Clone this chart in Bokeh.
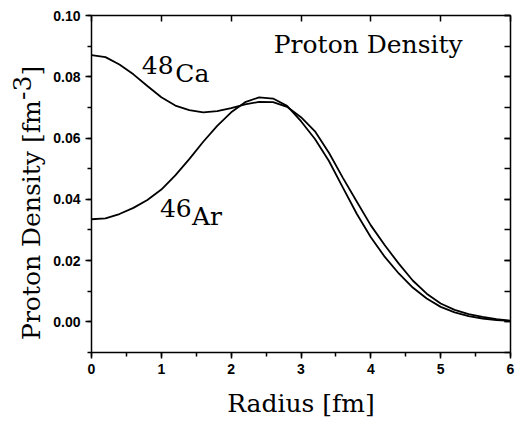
from math import pi
from bokeh.plotting import figure
from bokeh.layouts import row
from bokeh.models import (LinearAxis, SingleIntervalTicker, NumeralTickFormatter,
                          Label, Range1d)
from bokeh.embed import file_html
from bokeh.resources import INLINE

# ---- data ----
radius = [0.0, 0.2, 0.4, 0.6, 0.8, 1.0, 1.2, 1.4, 1.6, 1.8, 2.0, 2.2, 2.4, 2.6, 2.8,
          3.0, 3.2, 3.4, 3.6, 3.8, 4.0, 4.2, 4.4, 4.6, 4.8, 5.0, 5.2, 5.4, 5.6, 5.8, 6.0]
rho_ca48 = [0.0871, 0.0864, 0.0840, 0.0808, 0.0770, 0.0733, 0.0706, 0.0691, 0.0684, 0.0688,
            0.0698, 0.0710, 0.0718, 0.0717, 0.0702, 0.0668, 0.0622, 0.0552, 0.0470, 0.0392,
            0.0315, 0.0250, 0.0190, 0.0135, 0.0092, 0.0060, 0.0039, 0.0025, 0.0016, 0.0009, 0.0004]
rho_ar46 = [0.0335, 0.0338, 0.0352, 0.0372, 0.0398, 0.0432, 0.0478, 0.0531, 0.0588, 0.0640,
            0.0684, 0.0717, 0.0733, 0.0729, 0.0705, 0.0655, 0.0597, 0.0525, 0.0438, 0.0352,
            0.0276, 0.0212, 0.0158, 0.0112, 0.0076, 0.0049, 0.0031, 0.0019, 0.0011, 0.0006, 0.0003]

x_title = "Radius [fm]"
y_title = "Proton Density [fm"
y_title_sup = "-3"
y_title_end = "]"
panel_title = "Proton Density"

SERIF = "DejaVu Serif"
SANS = "Liberation Sans"
TXT = "25px"

W_LAB = 50          # width of the strip that holds the rotated y title
TOP, BOTTOM = 15, 72

p = figure(width=522 - W_LAB, height=424, output_backend="svg", toolbar_location=None,
           x_range=Range1d(0, 6), y_range=Range1d(-0.01, 0.10),
           min_border_left=91 - W_LAB, min_border_right=12,
           min_border_top=TOP, min_border_bottom=BOTTOM)
p.xgrid.visible = False
p.ygrid.visible = False
p.outline_line_color = None

p.line(radius, rho_ca48, line_color="black", line_width=1.8)
p.line(radius, rho_ar46, line_color="black", line_width=1.8)

# ---- axes ----
def style(ax, inward, labels):
    ax.axis_line_width = 1.5
    ax.axis_line_color = "black"
    ax.major_tick_line_width = 1.5
    ax.minor_tick_line_width = 1.5
    ax.major_tick_line_color = "black"
    ax.minor_tick_line_color = "black"
    if inward:
        ax.major_tick_in, ax.major_tick_out = 6, 0
        ax.minor_tick_in, ax.minor_tick_out = 4, 0
    else:
        ax.major_tick_in, ax.major_tick_out = 0, 6
        ax.minor_tick_in, ax.minor_tick_out = 0, 4
    if labels:
        ax.major_label_text_font = SANS
        ax.major_label_text_font_style = "bold"
        ax.major_label_text_font_size = "14px"
        ax.major_label_text_color = "black"
        ax.major_label_standoff = 5
    else:
        ax.major_label_text_font_size = "0px"
        ax.major_label_text_color = None
        ax.major_label_text_alpha = 0
        ax.major_label_standoff = 0

bx = p.xaxis[0]
bx.ticker = SingleIntervalTicker(interval=1, num_minor_ticks=2)
bx.formatter = NumeralTickFormatter(format="0")
style(bx, False, True)
bx.axis_label = x_title
bx.axis_label_text_font = SERIF
bx.axis_label_text_font_style = "normal"
bx.axis_label_text_font_size = TXT
bx.axis_label_text_color = "black"
bx.axis_label_standoff = 12

ly = p.yaxis[0]
ly.ticker = SingleIntervalTicker(interval=0.02, num_minor_ticks=2)
ly.formatter = NumeralTickFormatter(format="0.00")
style(ly, False, True)

tx = LinearAxis(ticker=SingleIntervalTicker(interval=1, num_minor_ticks=0))
style(tx, True, False)
tx.minor_tick_in = 0
p.add_layout(tx, "above")

ry = LinearAxis(ticker=SingleIntervalTicker(interval=0.02, num_minor_ticks=2))
style(ry, True, False)
ry.minor_tick_in = 6
p.add_layout(ry, "right")

# ---- in-plot texts ----
def lab(fig, x, y, t, angle=0.0):
    fig.add_layout(Label(x=x, y=y, text=t, angle=angle, text_font=SERIF,
                         text_font_size=TXT, text_color="black",
                         text_align="left", text_baseline="alphabetic"))

lab(p, 2.61, 0.0904, panel_title)
lab(p, 0.72, 0.0839, "48")
lab(p, 1.20, 0.0810, "Ca")
lab(p, 0.98, 0.0371, "46")
lab(p, 1.44, 0.0344, "Ar")

# ---- strip holding the rotated y title (shares the y scale) ----
q = figure(width=W_LAB, height=424, output_backend="svg", toolbar_location=None,
           x_range=Range1d(0, W_LAB), y_range=p.y_range,
           x_axis_location=None, y_axis_location=None,
           min_border_left=0, min_border_right=0,
           min_border_top=TOP, min_border_bottom=BOTTOM)
q.xgrid.visible = False
q.ygrid.visible = False
q.outline_line_color = None

lab(q, 30.5, -0.0059, y_title, pi / 2)
lab(q, 21.5, 0.0724, y_title_sup, pi / 2)
lab(q, 30.5, 0.0804, y_title_end, pi / 2)

layout = row(q, p, spacing=0)
open("out.html", "w").write(file_html(layout, INLINE))
